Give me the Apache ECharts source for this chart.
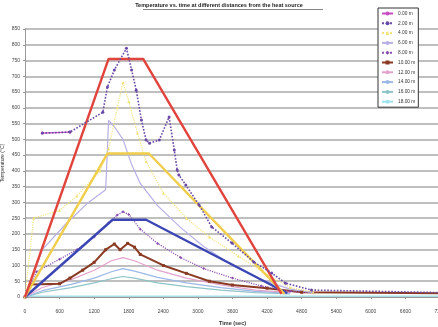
<!DOCTYPE html>
<html>
<head>
<meta charset="utf-8">
<script src="https://cdn.jsdelivr.net/npm/echarts@6/dist/echarts.min.js"></script>
<style>
  html, body { margin: 0; padding: 0; background: #fff; }
  #chart { width: 438px; height: 327px; }
</style>
</head>
<body>
<div id="chart"></div>
<script>
// Measured temperature histories (time in s, temperature in °C)
const depthNames = ['0.00 m', '2.00 m', '4.00 m', '6.00 m', '8.00 m', '10.00 m', '12.00 m', '14.00 m', '16.00 m', '18.00 m'];

const topT = [300, 780, 1350, 1430, 1550, 1760, 1850, 1930, 2020, 2100, 2160, 2330, 2500, 2590, 2640, 2670, 2790, 3020, 3240, 3590, 3970, 4280, 4520, 4970, 7200];
const topV = [520, 523, 586, 666, 720, 789, 720, 656, 561, 498, 488, 498, 571, 466, 403, 387, 355, 292, 222, 171, 111, 76, 44, 22, 14];

const lowPurpleT = [0, 200, 600, 900, 1200, 1450, 1600, 1700, 1800, 2000, 2300, 2700, 3100, 3600, 4100, 4600, 5000];
const lowPurpleV = [0, 80, 120, 150, 190, 235, 260, 270, 262, 215, 170, 125, 90, 60, 35, 18, 13];

const yellowDotT = [0, 150, 600, 900, 1300, 1450, 1600, 1700, 1800, 1950, 2100, 2400, 2800, 3200, 3700, 4200, 4600, 5000];
const yellowDotV = [0, 250, 275, 320, 400, 470, 600, 680, 620, 520, 430, 330, 250, 190, 130, 70, 30, 15];

const lavenderT = [0, 300, 700, 1100, 1400, 1450, 1550, 1700, 1850, 2000, 2300, 2700, 3100, 3600, 4100, 4600, 5000];
const lavenderV = [0, 150, 230, 300, 340, 560, 540, 500, 420, 360, 290, 220, 160, 100, 55, 25, 14];

const brownT = [0, 100, 600, 780, 1000, 1200, 1400, 1550, 1650, 1780, 1900, 2000, 2400, 2800, 3200, 3600, 4200, 4800, 7200];
const brownV = [0, 40, 42, 60, 85, 110, 150, 168, 150, 170, 158, 135, 100, 75, 50, 38, 28, 15, 12];

const faintT = [0, 300, 800, 1200, 1500, 1700, 1900, 2300, 2800, 3400, 4000, 4600];
const pinkV = [0, 30, 55, 85, 115, 125, 115, 85, 60, 38, 22, 14];
const skyV = [0, 20, 40, 60, 80, 90, 82, 62, 45, 30, 18, 12];
const tealV = [0, 15, 30, 45, 58, 65, 60, 45, 33, 22, 14, 10];

const cyanT = [0, 7200];
const cyanV = [3, 3];

const magentaT = [300, 780];
const magentaV = [520, 523];

// Simplified envelope curves
const redT = [0, 1450, 2050, 4450];
const redV = [0, 755, 755, 10];
const yellowT = [0, 1430, 2150, 4500];
const yellowV = [0, 455, 455, 10];
const blueT = [0, 1520, 2100, 4550];
const blueV = [0, 245, 245, 12];

const xTicks = { min: 0, max: 7200, step: 600 };
const yTicks = { min: 0, max: 850, step: 50 };

function pairs(t, v) { return t.map((x, i) => [x, v[i]]); }

const FONT = 'Liberation Sans, Arial, sans-serif';

function measured(name, t, v, color, symbol, opts) {
  opts = opts || {};
  return {
    name: name, type: 'line', data: pairs(t, v),
    symbol: symbol || 'none', symbolSize: opts.size || 3,
    showSymbol: !!symbol,
    itemStyle: { color: color },
    lineStyle: { color: color, width: opts.width || 1.2, type: opts.type || 'solid' },
    z: opts.z || 3, animation: false
  };
}

function envelope(t, v, color) {
  return {
    type: 'line', data: pairs(t, v), symbol: 'none',
    lineStyle: { color: color, width: 2.4 }, itemStyle: { color: color },
    z: 4, animation: false, legendHoverLink: false
  };
}

const chart = echarts.init(document.getElementById('chart'), null, { renderer: 'canvas' });

chart.setOption({
  backgroundColor: '#fff',
  textStyle: { fontFamily: FONT },
  graphic: [
    {
      type: 'text', left: 'center', top: 2,
      style: {
        text: 'Temperature vs. time at different distances from the heat source',
        font: 'bold 5.5px ' + FONT, fill: '#222', textAlign: 'center'
      }
    },
    {
      type: 'line', shape: { x1: 143, y1: 9.5, x2: 323, y2: 9.5 },
      style: { stroke: '#333', lineWidth: 0.6 }
    }
  ],
  legend: {
    orient: 'vertical', left: 378, top: 8,
    data: depthNames,
    itemWidth: 11, itemHeight: 5, itemGap: 4.8,
    padding: [3, 3, 3, 3],
    borderColor: '#333', borderWidth: 1, backgroundColor: '#fff',
    textStyle: { fontSize: 4.8, color: '#333', fontFamily: FONT }
  },
  grid: { left: 25, top: 29, width: 415, height: 268, outerBoundsMode: 'none', containLabel: false },
  xAxis: {
    type: 'value', min: xTicks.min, max: xTicks.max, interval: xTicks.step,
    name: 'Time (sec)', nameLocation: 'middle', nameGap: 23,
    nameTextStyle: { fontSize: 5.5, fontWeight: 'bold', color: '#333' },
    axisLine: { lineStyle: { color: '#999', width: 1 } },
    axisTick: { show: true, length: 2, lineStyle: { color: '#999' } },
    axisLabel: { fontSize: 5, color: '#444', margin: 12, formatter: v => String(v) },
    splitLine: { show: false }
  },
  yAxis: {
    type: 'value', min: yTicks.min, max: yTicks.max, interval: yTicks.step,
    name: 'Temperature (°C)', nameLocation: 'middle', nameGap: 20, nameMoveOverlap: false,
    nameTextStyle: { fontSize: 5, color: '#333' },
    axisLine: { show: true, lineStyle: { color: '#999', width: 1 } },
    axisTick: { show: true, length: 2, lineStyle: { color: '#999' } },
    axisLabel: { fontSize: 5, color: '#444', margin: 5 },
    splitLine: { lineStyle: { color: '#aaa', width: 1.5 } }
  },
  series: [
    measured(depthNames[9], cyanT, cyanV, '#9fe3ee', null, { width: 1.2 }),
    measured(depthNames[8], faintT, tealV, '#8fc4c8', null),
    measured(depthNames[7], faintT, skyV, '#9bb8e6', null),
    measured(depthNames[6], faintT, pinkV, '#e2a2cc', null),
    measured(depthNames[5], brownT, brownV, '#8a3a22', 'rect', { width: 2, size: 3 }),
    measured(depthNames[4], lowPurpleT, lowPurpleV, '#8a4db0', 'diamond', { width: 1.2, size: 3, type: 'dotted' }),
    measured(depthNames[3], lavenderT, lavenderV, '#b6b0e6', 'none', { width: 1.2 }),
    measured(depthNames[2], yellowDotT, yellowDotV, '#f1e27a', 'triangle', { width: 1.2, size: 3, type: 'dotted' }),
    measured(depthNames[1], topT, topV, '#6a4aa6', 'circle', { width: 1.6, size: 3, type: 'dotted', z: 5 }),
    measured(depthNames[0], magentaT, magentaV, '#c84cc4', 'circle', { width: 1.2, size: 3 }),
    envelope(blueT, blueV, '#3d47b4'),
    envelope(yellowT, yellowV, '#f0cd4a'),
    envelope(redT, redV, '#e0443c')
  ]
});
</script>
</body>
</html>
